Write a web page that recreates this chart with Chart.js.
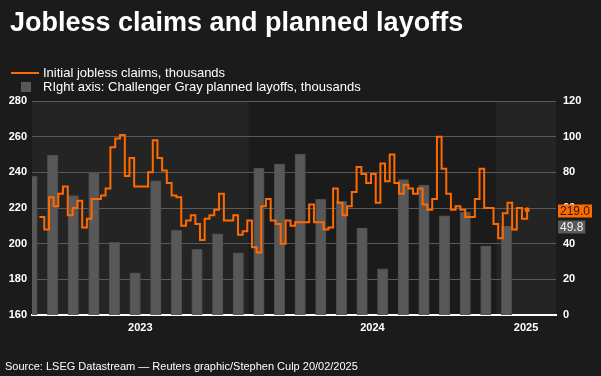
<!DOCTYPE html>
<html lang="en">
  <head>
    <meta charset="UTF-8" />
    <title>Jobless claims and planned layoffs</title>
    <script src="https://cdn.jsdelivr.net/npm/chart.js"></script>
    <style>
      body { margin: 0; background: #1b1b1b; color: #fff; font-family: "Liberation Sans", Arial, sans-serif; }
      #wrap { position: relative; width: 601px; height: 376px; overflow: hidden; }
      #chart { position: absolute; left: 0; top: 0; }
      .title { position: absolute; left: 10px; top: 9px; margin: 0; font-size: 27px; line-height: 27px; font-weight: bold; white-space: nowrap; }
      .leg { position: absolute; left: 43px; font-size: 13px; line-height: 14px; white-space: nowrap; }
      .swatch-line { position: absolute; left: 11px; top: 72px; width: 28px; height: 2px; background: #ff6a00; }
      .swatch-box { position: absolute; left: 21px; top: 82px; width: 10px; height: 10px; background: #585858; }
      .source { position: absolute; left: 5px; top: 361px; font-size: 11px; line-height: 11px; white-space: nowrap; }
    </style>
  </head>
  <body>
    <div id="wrap">
      <canvas id="chart" width="601" height="376"></canvas>
      <h1 class="title">Jobless claims and planned layoffs</h1>
      <div class="swatch-line"></div>
      <div class="leg" style="top: 66px">Initial jobless claims, thousands</div>
      <div class="swatch-box"></div>
      <div class="leg" style="top: 80px">RIght axis: Challenger Gray planned layoffs, thousands</div>
      <div class="source">Source: LSEG Datastream — Reuters graphic/Stephen Culp 20/02/2025</div>
    </div>
    <script>
      // weekly initial jobless claims (thousands), first week ending 25 Feb 2023
      const claimsStart = "2023-02-25";
      const claims = [
        215, 208, 226, 221, 228, 232, 216, 220, 224, 209,
        214, 225, 225, 227, 231, 254, 259, 261, 238, 248,
        232, 232, 232, 240, 258, 248, 241, 234, 227, 226,
        210, 213, 216, 211, 202, 214, 216, 219, 228, 213,
        213, 216, 205, 207, 213, 198, 195, 221, 225, 213,
        211, 200, 213, 210, 212, 212, 212, 222, 212, 212,
        208, 209, 231, 223, 216, 221, 229, 243, 239, 234,
        239, 223, 245, 235, 250, 234, 228, 233, 231, 228,
        231, 222, 219, 225, 260, 242, 228, 219, 221, 219,
        215, 215, 225, 242, 220, 220, 211, 203, 217, 223,
        208, 220, 214, 219,
      ];

      // monthly Challenger planned layoffs (thousands), Feb 2023 - Jan 2025
      const layoffsStart = "2023-02";
      const layoffs = [
        77.8, 89.7, 67.0, 80.1, 40.7, 23.7, 75.2, 47.5, 36.8, 45.5, 34.8,
        82.3, 84.6, 90.3, 64.8, 63.8, 48.8, 25.9, 75.9, 72.8, 55.6, 57.7, 38.8,
        49.8,
      ];

      const yearLabels = ["2023", "2024", "2025"];
      const firstYear = 2023;

      const ORANGE = "#ff6a00";
      const BAR = "#585858";

      // months elapsed since 1 Jan 2023, fractional
      function monthsSince(date) {
        const y = date.getUTCFullYear();
        const m = date.getUTCMonth();
        const days = new Date(Date.UTC(y, m + 1, 0)).getUTCDate();
        return (y - firstYear) * 12 + m + (date.getUTCDate() - 1) / days;
      }

      const start = new Date(claimsStart + "T00:00:00Z");
      const claimsPoints = claims.map((v, i) => {
        const d = new Date(start.getTime() + i * 7 * 86400000);
        return { x: monthsSince(d), y: v };
      });

      const [ly, lm] = layoffsStart.split("-").map(Number);
      const layoffPoints = layoffs.map((v, j) => ({
        x: (ly - firstYear) * 12 + (lm - 1) + j + 0.5,
        y: v,
      }));

      const xMin = 1.5;
      const xMax = 26.9;

      const bandsPlugin = {
        id: "bands",
        beforeDraw(chart) {
          const { ctx, chartArea: a } = chart;
          const x = chart.scales.x;
          ctx.save();
          ctx.fillStyle = "#1b1b1b";
          ctx.fillRect(0, 0, chart.width, chart.height);
          ctx.fillStyle = "#242424";
          yearLabels.forEach((yr, k) => {
            if (k % 2) return;
            const x0 = Math.max(a.left, x.getPixelForValue(k * 12));
            const x1 = Math.min(a.right, x.getPixelForValue((k + 1) * 12));
            if (x1 > x0) ctx.fillRect(x0, a.top, x1 - x0, a.bottom - a.top);
          });
          ctx.restore();
        },
      };

      const tagsPlugin = {
        id: "tags",
        afterDraw(chart) {
          const { ctx, chartArea: a, scales } = chart;
          function tag(text, y, bg, fg) {
            ctx.save();
            ctx.font = "12px 'Liberation Sans', Arial, sans-serif";
            const w = ctx.measureText(text).width + 4;
            ctx.fillStyle = bg;
            ctx.fillRect(a.right + 2, Math.round(y) - 5.5, w, 13);
            ctx.fillStyle = fg;
            ctx.textBaseline = "middle";
            ctx.fillText(text, a.right + 4, Math.round(y) + 1.5);
            ctx.restore();
          }
          const lastClaim = claims[claims.length - 1];
          const lastLayoff = layoffs[layoffs.length - 1];
          tag(lastClaim.toFixed(1), scales.y.getPixelForValue(lastClaim), ORANGE, "#1e1e1e");
          tag(lastLayoff.toFixed(1), scales.y2.getPixelForValue(lastLayoff), "#5a5a5a", "#f2f2f2");
        },
      };

      const tickFont = { family: "'Liberation Sans', Arial, sans-serif", size: 11, weight: "bold" };

      new Chart(document.getElementById("chart").getContext("2d"), {
        data: {
          datasets: [
            {
              type: "line",
              label: "Initial jobless claims, thousands",
              data: claimsPoints,
              yAxisID: "y",
              stepped: true,
              borderColor: ORANGE,
              backgroundColor: ORANGE,
              borderWidth: 2,
              pointRadius: (c) => (c.dataIndex === claims.length - 1 ? 2.5 : 0),
              pointBorderWidth: 0,
              order: 0,
            },
            {
              type: "bar",
              label: "RIght axis: Challenger Gray planned layoffs, thousands",
              data: layoffPoints,
              yAxisID: "y2",
              backgroundColor: BAR,
              borderColor: "#4c4c4c",
              borderWidth: 1,
              barThickness: 10.5,
              order: 1,
            },
          ],
        },
        options: {
          responsive: false,
          animation: false,
          layout: { padding: { top: 101, left: 0, right: 0, bottom: 0 } },
          plugins: { legend: { display: false }, tooltip: { enabled: false } },
          scales: {
            x: {
              type: "linear",
              min: xMin,
              max: xMax,
              offset: false,
              grid: { display: false, drawTicks: false, offset: false },
              border: { display: true, color: "#ffffff", width: 2 },
              afterBuildTicks: (scale) => {
                scale.ticks = yearLabels.map((yr, k) => {
                  const lo = Math.max(xMin, k * 12);
                  const hi = Math.min(xMax, (k + 1) * 12);
                  return { value: (lo + hi) / 2 };
                });
              },
              ticks: {
                color: "#ffffff",
                font: tickFont,
                padding: 6,
                maxRotation: 0,
                autoSkip: false,
                callback: (v) => yearLabels[Math.floor(v / 12)],
              },
              afterFit: (scale) => { scale.height = 61; },
            },
            y: {
              position: "left",
              min: 160,
              max: 280,
              ticks: { stepSize: 20, color: "#ffffff", font: tickFont, padding: 5 },
              grid: { color: "#5a5a5a", lineWidth: 1, drawTicks: false },
              border: { display: false },
              afterFit: (scale) => { scale.width = 32; },
            },
            y2: {
              position: "right",
              min: 0,
              max: 120,
              ticks: { stepSize: 20, color: "#ffffff", font: tickFont, padding: 7 },
              grid: { display: false, drawTicks: false },
              border: { display: false },
              afterFit: (scale) => { scale.width = 45; },
            },
          },
        },
        plugins: [bandsPlugin, tagsPlugin],
      });
    </script>
  </body>
</html>
